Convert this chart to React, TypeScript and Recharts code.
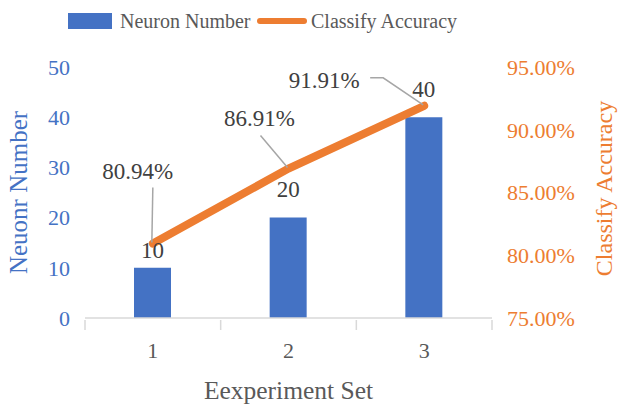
import React from "react";
import { ComposedChart, Bar, Line, XAxis, YAxis, Legend, LabelList } from "recharts";

const experimentSets = ["1", "2", "3"];
const neuronNumber = [10, 20, 40];
const classifyAccuracy = [80.94, 86.91, 91.91];
const neuronTicks = [0, 10, 20, 30, 40, 50];
const accuracyTicks = [75, 80, 85, 90, 95];

const data = experimentSets.map((set, i) => ({
  set,
  neurons: neuronNumber[i],
  accuracy: classifyAccuracy[i]
}));

const BLUE = "#4472C4";
const ORANGE = "#ED7D31";
const TEXT = "#404040";
const FONT = "Liberation Serif, Times New Roman, serif";
const W = 619;
const H = 405;
const PLOT_LEFT = 85;
const PLOT_RIGHT = 492;
const BAND = (PLOT_RIGHT - PLOT_LEFT) / experimentSets.length;

// label placement tweaks (Excel nudged these to avoid overlap)
const barLabelLift = [18, 29, 28];
const lineLabelShift = [
  { dx: -15, dy: -73, from: [0, -56], mid: null },
  { dx: -29, dy: -51, from: [-28, -33], mid: null },
  { dx: -100, dy: -26, from: [-54, -28], mid: [-41, -28] }
];

function XTick(props: any) {
  const { x, y, payload, index } = props;
  const last = index === experimentSets.length - 1;
  return (
    <g>
      <line x1={x - BAND / 2} y1={y} x2={x - BAND / 2} y2={y + 10} stroke="#D9D9D9" strokeWidth={1.5} />
      {last && <line x1={x + BAND / 2} y1={y} x2={x + BAND / 2} y2={y + 10} stroke="#D9D9D9" strokeWidth={1.5} />}
      <text x={x} y={y + 30} dy="0.35em" textAnchor="middle" fill="#595959" fontSize={22} fontFamily={FONT}>
        {payload.value}
      </text>
    </g>
  );
}

function BarValue(props: any) {
  const { x, y, width, value, index } = props;
  return (
    <text x={x + width / 2} y={y - barLabelLift[index]} dy="0.35em" textAnchor="middle" fill={TEXT} fontSize={23} fontFamily={FONT}>
      {value}
    </text>
  );
}

function LineValue(props: any) {
  const { x, y, value, index } = props;
  const s = lineLabelShift[index];
  const pts = [[x + s.from[0], y + s.from[1]]];
  if (s.mid) pts.push([x + s.mid[0], y + s.mid[1]]);
  pts.push([x - 1, y - 1]);
  return (
    <g>
      <polyline points={pts.map((p) => p.join(",")).join(" ")} fill="none" stroke="#A6A6A6" strokeWidth={1.5} />
      <text x={x + s.dx} y={y + s.dy} dy="0.35em" textAnchor="middle" fill={TEXT} fontSize={23} fontFamily={FONT}>
        {value.toFixed(2)}%
      </text>
    </g>
  );
}

function LegendBox() {
  return (
    <div style={{ position: "relative", height: 42, width: W, fontFamily: FONT, fontSize: 20, color: "#595959" }}>
      <div style={{ position: "absolute", left: 68, top: 13, width: 44, height: 16, background: BLUE }} />
      <span style={{ position: "absolute", left: 120, top: 8, lineHeight: "26px" }}>Neuron Number</span>
      <div style={{ position: "absolute", left: 257, top: 18, width: 50, height: 6, borderRadius: 3, background: ORANGE }} />
      <span style={{ position: "absolute", left: 311, top: 8, lineHeight: "26px" }}>Classify Accuracy</span>
    </div>
  );
}

export default function App() {
  return (
    <div style={{ position: "absolute", left: 0, top: 0, background: "#fff" }}>
      <ComposedChart width={W} height={H} data={data} margin={{ top: 25, right: 0, bottom: 0, left: 0 }} barCategoryGap={0}>
        <Legend
          verticalAlign="top"
          content={() => <LegendBox />}
          wrapperStyle={{ top: 0, left: 0, width: W, margin: 0, padding: 0 }}
        />
        <XAxis
          dataKey="set"
          height={87}
          axisLine={{ stroke: "#D9D9D9", strokeWidth: 1.5 }}
          tickLine={false}
          tickSize={0}
          tick={<XTick />}
          label={(p: any) => {
            const vb = p.viewBox;
            return (
              <text x={vb.x + vb.width / 2} y={vb.y + 72} dy="0.35em" textAnchor="middle" fill="#595959" fontSize={25.5} fontFamily={FONT}>
                Eexperiment Set
              </text>
            );
          }}
        />
        <YAxis
          yAxisId="left"
          width={85}
          domain={[0, 50]}
          ticks={neuronTicks}
          axisLine={false}
          tickLine={false}
          tickSize={0}
          tickMargin={15}
          tick={{ fill: BLUE, fontSize: 22, fontFamily: FONT }}
          label={(p: any) => {
            const vb = p.viewBox;
            const cx = vb.x + 18;
            const cy = vb.y + vb.height / 2;
            return (
              <text x={cx} y={cy} dy="0.35em" textAnchor="middle" fill={BLUE} fontSize={25} fontFamily={FONT} transform={`rotate(-90 ${cx} ${cy})`}>
                Neuonr Number
              </text>
            );
          }}
        />
        <YAxis
          yAxisId="right"
          orientation="right"
          width={127}
          domain={[75, 95]}
          ticks={accuracyTicks}
          axisLine={false}
          tickLine={false}
          tickSize={0}
          tickMargin={15}
          tickFormatter={(v: number) => v.toFixed(2) + "%"}
          tick={{ fill: ORANGE, fontSize: 22, fontFamily: FONT }}
          label={(p: any) => {
            const vb = p.viewBox;
            const cx = vb.x + 112;
            const cy = vb.y + vb.height / 2 - 4;
            return (
              <text x={cx} y={cy} dy="0.35em" textAnchor="middle" fill={ORANGE} fontSize={24} fontFamily={FONT} transform={`rotate(-90 ${cx} ${cy})`}>
                Classify Accuracy
              </text>
            );
          }}
        />
        <Bar yAxisId="left" dataKey="neurons" name="Neuron Number" fill={BLUE} barSize={37} isAnimationActive={false}>
          <LabelList dataKey="neurons" content={<BarValue />} />
        </Bar>
        <Line
          yAxisId="right"
          dataKey="accuracy"
          name="Classify Accuracy"
          stroke={ORANGE}
          strokeWidth={8}
          strokeLinecap="round"
          dot={false}
          isAnimationActive={false}
        >
          <LabelList dataKey="accuracy" content={<LineValue />} />
        </Line>
      </ComposedChart>
    </div>
  );
}
